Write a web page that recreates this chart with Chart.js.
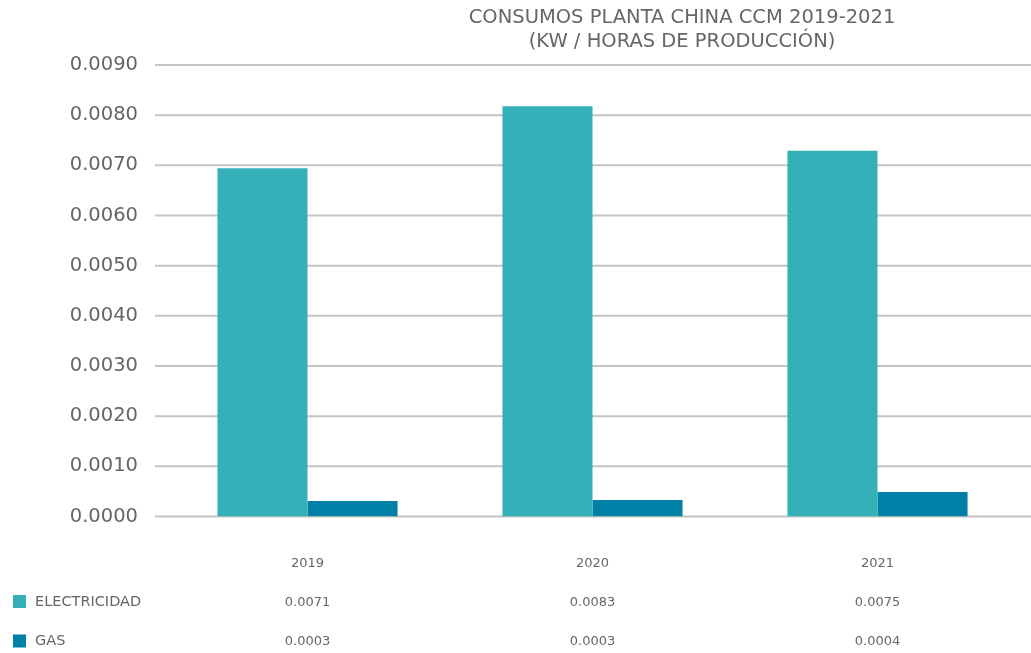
<!DOCTYPE html>
<html>
<head>
<meta charset="utf-8">
<script src="https://cdn.jsdelivr.net/npm/chart.js@4.4.1/dist/chart.umd.min.js"></script>
<style>
html,body{margin:0;padding:0;background:#fff;}
#wrap{width:1031px;height:653px;position:relative;}
</style>
</head>
<body>
<div id="wrap"><canvas id="c" width="1031" height="653"></canvas></div>
<script>
const categories = ['2019', '2020', '2021'];
const seriesNames = ['ELECTRICIDAD', 'GAS'];
const electricidad = [0.00694, 0.00818, 0.00729];
const gas = [0.00031, 0.00033, 0.00049];
const tableElectricidad = ['0.0071', '0.0083', '0.0075'];
const tableGas = ['0.0003', '0.0003', '0.0004'];
const titleLines = ['CONSUMOS PLANTA CHINA CCM 2019-2021', '(KW / HORAS DE PRODUCCIÓN)'];
const colors = ['#35B0B8', '#0080A6'];

const FONT = '"DejaVu Sans", sans-serif';
const TEXT = '#666666';

const xLabels = categories.map((c, i) => [c, tableElectricidad[i], tableGas[i]]);

const decor = {
  id: 'decor',
  beforeDatasetsDraw(chart) {
    const ctx = chart.ctx, y = chart.scales.y;
    ctx.save();
    ctx.strokeStyle = '#C4C4C4';
    ctx.lineWidth = 2;
    y.ticks.forEach(t => {
      const py = y.getPixelForValue(t.value);
      ctx.beginPath();
      ctx.moveTo(155, py);
      ctx.lineTo(chart.width, py);
      ctx.stroke();
    });
    ctx.restore();
  },
  afterDraw(chart) {
    const ctx = chart.ctx;
    ctx.save();
    ctx.fillStyle = TEXT;
    ctx.font = '19.5px ' + FONT;
    ctx.textAlign = 'center';
    ctx.textBaseline = 'middle';
    ctx.fillText(titleLines[0], 682, 18);
    ctx.fillText(titleLines[1], 682, 42);
    // legend rows of the data table
    const rows = [601.5, 641];
    ctx.font = '14.5px ' + FONT;
    ctx.textAlign = 'left';
    seriesNames.forEach((n, i) => {
      ctx.fillStyle = chart.data.datasets[i].backgroundColor;
      ctx.fillRect(13, rows[i] - 6.5, 13, 13);
      ctx.fillStyle = TEXT;
      ctx.fillText(n, 35, rows[i] + 0.5);
    });
    ctx.restore();
  }
};

new Chart(document.getElementById('c'), {
  type: 'bar',
  data: {
    labels: xLabels,
    datasets: [
      { label: seriesNames[0], data: electricidad, backgroundColor: colors[0], borderWidth: 0 },
      { label: seriesNames[1], data: gas, backgroundColor: colors[1], borderWidth: 0 }
    ]
  },
  options: {
    responsive: false,
    animation: false,
    layout: { padding: { top: 65, right: 11, left: 0, bottom: 0 } },
    plugins: { legend: { display: false }, title: { display: false }, tooltip: { enabled: false } },
    datasets: { bar: { categoryPercentage: 0.632, barPercentage: 1.0 } },
    scales: {
      x: {
        grid: { display: false, drawTicks: false },
        border: { display: false },
        ticks: {
          color: TEXT,
          font: { family: FONT, size: 13, lineHeight: 2.98 },
          padding: 28,
          maxRotation: 0,
          autoSkip: false
        },
        afterFit(scale) { scale.height = 136.5; }
      },
      y: {
        min: 0,
        max: 0.009,
        grid: { display: false, drawTicks: false },
        border: { display: false },
        ticks: {
          stepSize: 0.001,
          color: TEXT,
          font: { family: FONT, size: 19.5 },
          padding: 27,
          callback: v => Number(v).toFixed(4)
        },
        afterFit(scale) { scale.width = 165; }
      }
    }
  },
  plugins: [decor]
});
</script>
</body>
</html>
